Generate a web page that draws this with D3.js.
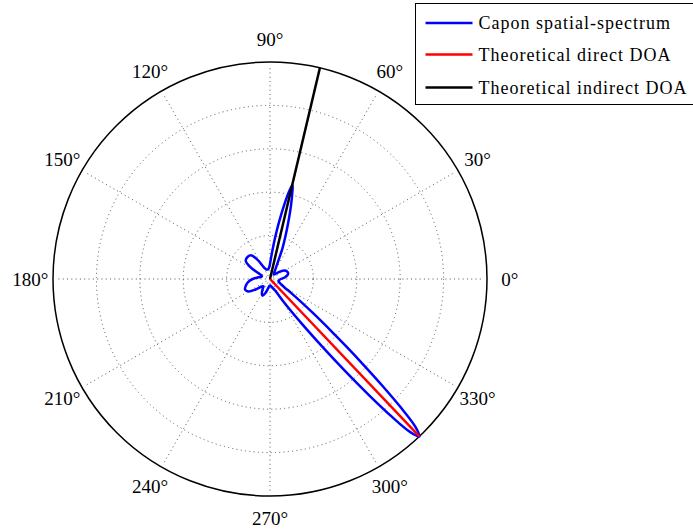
<!DOCTYPE html>
<html>
<head>
<meta charset="utf-8">
<script src="https://cdn.jsdelivr.net/npm/d3@7"></script>
<style>
  body { margin: 0; background: #fff; }
  svg { display: block; }
  text { font-family: "Liberation Serif", "Times New Roman", serif; fill: #000; }
</style>
</head>
<body>
<div id="chart"></div>
<script>
// Capon spatial spectrum, normalised magnitude vs angle (degrees)
const spectrumAngles = [0, 6, 12, 18, 24, 30, 36, 42, 48, 54, 58, 62, 65, 68, 70, 72, 74, 75.5, 76.5, 77.5, 79, 81, 83, 85, 88,
  92, 98, 105, 112, 118, 123, 128, 135, 143, 148, 153, 158, 165, 172, 180, 188, 195, 203, 210, 216, 222, 228,
  234, 240, 246, 252, 258, 265, 272, 280, 288, 294, 297.5, 300.5, 303.5, 305.5, 307.5, 308.5, 309.5, 310.5,
  311.5, 312.5, 313.5, 314.5, 315.5, 316.5, 317.5, 318.5, 319.5, 321.5, 323.5, 326.5, 329.5, 334, 340, 346, 352];
const spectrumValues = [0.050, 0.068, 0.082, 0.088, 0.086, 0.078, 0.060, 0.038, 0.028, 0.030, 0.040, 0.058, 0.085, 0.155,
  0.205, 0.270, 0.350, 0.410, 0.445, 0.420, 0.355, 0.265, 0.190, 0.135, 0.088,
  0.060, 0.048, 0.045, 0.048, 0.062, 0.105, 0.138, 0.145, 0.140, 0.112, 0.065, 0.042, 0.040, 0.055, 0.080,
  0.102, 0.115, 0.125, 0.115, 0.082, 0.052, 0.045,
  0.058, 0.075, 0.084, 0.068, 0.045, 0.032, 0.030, 0.035, 0.045, 0.058, 0.079, 0.116, 0.181, 0.257, 0.380,
  0.469, 0.580, 0.711, 0.847, 0.957, 1.000, 0.957, 0.847, 0.711, 0.580, 0.469, 0.380, 0.257, 0.181, 0.116,
  0.079, 0.058, 0.045, 0.040, 0.042];

const directDOA = 313.5;   // degrees
const indirectDOA = 76.7;  // degrees

const ringValues = [0.2, 0.4, 0.6, 0.8];
const spokeAngles = [0, 30, 60, 90, 120, 150];
const tickAngles = [0, 30, 60, 90, 120, 150, 180, 210, 240, 270, 300, 330];

const legendLabels = ["Capon spatial-spectrum", "Theoretical direct DOA", "Theoretical indirect DOA"];
const legendColors = ["#0000ff", "#ff0000", "#000000"];

const width = 693, height = 530;
const cx = 270, cy = 279, R = 217;

const svg = d3.select("#chart").append("svg")
  .attr("width", width)
  .attr("height", height);

svg.append("rect").attr("width", width).attr("height", height).attr("fill", "#fff");

const g = svg.append("g").attr("transform", `translate(${cx}, ${cy})`);

const r = d3.scaleLinear().domain([0, 1]).range([0, R]);
// math angle (ccw from east) -> d3 radial angle (cw from north)
const a = d3.scaleLinear().domain([0, 360]).range([Math.PI / 2, Math.PI / 2 - 2 * Math.PI]);

const px = (deg, v) => r(v) * Math.cos(deg * Math.PI / 180);
const py = (deg, v) => -r(v) * Math.sin(deg * Math.PI / 180);

// grid rings
g.selectAll(".ring")
  .data(ringValues)
  .enter().append("circle")
  .attr("class", "ring")
  .attr("r", d => r(d))
  .attr("fill", "none")
  .attr("stroke", "#555")
  .attr("stroke-width", 1)
  .attr("stroke-dasharray", "1 3.3");

// spokes
g.selectAll(".spoke")
  .data(spokeAngles)
  .enter().append("line")
  .attr("class", "spoke")
  .attr("x1", d => px(d, -0.975))
  .attr("y1", d => py(d, -0.975))
  .attr("x2", d => px(d, 0.975))
  .attr("y2", d => py(d, 0.975))
  .attr("stroke", "#555")
  .attr("stroke-width", 1)
  .attr("stroke-dasharray", "1 3.3");

// outer circle
g.append("circle")
  .attr("r", r(1))
  .attr("fill", "none")
  .attr("stroke", "#000")
  .attr("stroke-width", 1.5);

// angle labels
g.selectAll(".tick")
  .data(tickAngles)
  .enter().append("text")
  .attr("class", "tick")
  .attr("x", d => px(d, 1.105))
  .attr("y", d => py(d, 1.105))
  .attr("text-anchor", "middle")
  .attr("dominant-baseline", "central")
  .style("font-size", "19px")
  .text(d => d + "°");

// spectrum
const spectrum = spectrumAngles.map((d, i) => [d, spectrumValues[i]]);
const radial = d3.lineRadial()
  .angle(d => a(d[0]))
  .radius(d => r(d[1]))
  .curve(d3.curveCatmullRomClosed.alpha(0.5));

g.append("path")
  .datum(spectrum)
  .attr("d", radial)
  .attr("fill", "none")
  .attr("stroke", legendColors[0])
  .attr("stroke-width", 2.5)
  .attr("stroke-linejoin", "round");

// theoretical DOA lines
[[directDOA, legendColors[1]], [indirectDOA, legendColors[2]]].forEach(([deg, col]) => {
  g.append("line")
    .attr("x1", 0).attr("y1", 0)
    .attr("x2", px(deg, 1)).attr("y2", py(deg, 1))
    .attr("stroke", col)
    .attr("stroke-width", 2.5);
});

// legend
const legend = svg.append("g").attr("transform", "translate(415.5, 3.5)");
legend.append("rect")
  .attr("width", 300)
  .attr("height", 101)
  .attr("fill", "#fff")
  .attr("stroke", "#000")
  .attr("stroke-width", 1);

const rowY = [19.5, 51, 84];
legendLabels.forEach((label, i) => {
  legend.append("line")
    .attr("x1", 10).attr("x2", 57)
    .attr("y1", rowY[i]).attr("y2", rowY[i])
    .attr("stroke", legendColors[i])
    .attr("stroke-width", 2.5);
  legend.append("text")
    .attr("x", 63)
    .attr("y", rowY[i] + 6)
    .style("font-size", "18px")
    .style("letter-spacing", "1px")
    .text(label);
});
</script>
</body>
</html>
